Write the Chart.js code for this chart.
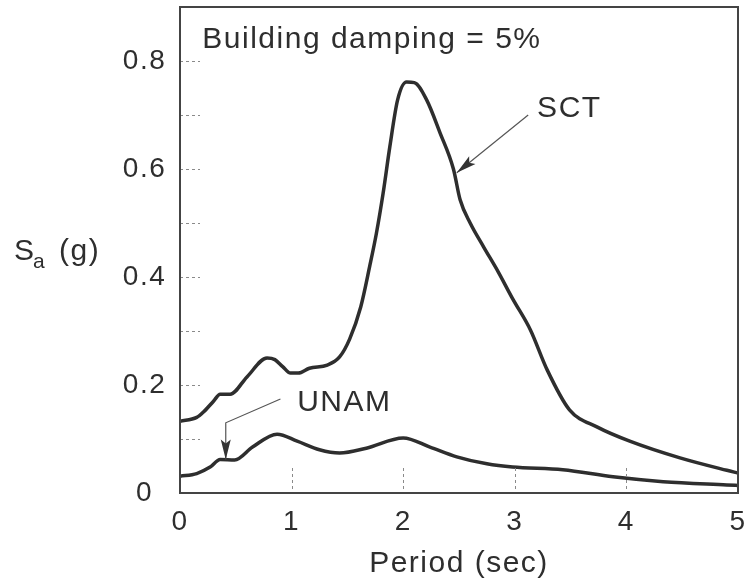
<!doctype html>
<html>
<head>
<meta charset="utf-8">
<title>Response spectra, SCT and UNAM</title>
<script src="https://cdn.jsdelivr.net/npm/chart.js@4.4.1/dist/chart.umd.min.js"></script>
<style>
  html, body { margin: 0; padding: 0; background: #fff; }
  #wrap { width: 752px; height: 579px; }
</style>
</head>
<body>
<div id="wrap"><canvas id="spectra" width="752" height="579"></canvas></div>
<script>
// period (sec) and spectral acceleration (g), 5% damping
var sctPeriod = [0, 0.15, 0.21, 0.30, 0.36, 0.45, 0.60, 0.78, 0.85, 0.92, 0.99, 1.06, 1.16, 1.32, 1.43, 1.52,
                 1.62, 1.70, 1.76, 1.82, 1.88, 1.95, 2.03, 2.10, 2.21, 2.33, 2.45, 2.51, 2.60, 2.72, 2.85,
                 2.98, 3.14, 3.29, 3.49, 3.74, 4.03, 4.48, 4.90, 5.0];
var sctSa = [0.133, 0.14, 0.15, 0.17, 0.183, 0.183, 0.215, 0.25, 0.247, 0.234, 0.222, 0.222, 0.231, 0.237, 0.252, 0.285,
             0.345, 0.42, 0.481, 0.555, 0.641, 0.728, 0.761, 0.760, 0.728, 0.667, 0.600, 0.543, 0.50, 0.456, 0.41,
             0.36, 0.302, 0.228, 0.154, 0.122, 0.096, 0.065, 0.042, 0.037];

var unamPeriod = [0, 0.15, 0.27, 0.36, 0.49, 0.65, 0.87, 1.05, 1.25, 1.43, 1.67, 2.0, 2.24, 2.48, 2.75, 2.98,
                  3.43, 3.88, 4.33, 4.90, 5.0];
var unamSa = [0.031, 0.036, 0.048, 0.062, 0.061, 0.085, 0.109, 0.096, 0.080, 0.074, 0.083, 0.102, 0.085, 0.067, 0.054, 0.048,
              0.043, 0.030, 0.021, 0.015, 0.014];

var xTicks = [0, 1, 2, 3, 4, 5];
var yLabels = [0, 0.2, 0.4, 0.6, 0.8];
var yMinor = [0.1, 0.2, 0.3, 0.4, 0.5, 0.6, 0.7, 0.8];

var ink = '#2e2e2e';
var fontFamily = '"Liberation Sans", Arial, Helvetica, sans-serif';

function pairs(xs, ys) {
  return xs.map(function (x, i) { return { x: x, y: ys[i] }; });
}

// notes placed in data units
var notes = {
  heading: { text: 'Building damping = 5%', x: 0.20, y: 0.824 },
  sct: { text: 'SCT', x: 3.20, y: 0.696, arrow: [[3.12, 0.70], [2.48, 0.593]] },
  unam: { text: 'UNAM', x: 1.05, y: 0.152, arrow: [[0.90, 0.174], [0.41, 0.13], [0.41, 0.062]] }
};

function arrowHead(ctx, fx, fy, tx, ty, len, half) {
  var a = Math.atan2(ty - fy, tx - fx);
  ctx.beginPath();
  ctx.moveTo(tx, ty);
  ctx.lineTo(tx - len * Math.cos(a) + half * Math.sin(a), ty - len * Math.sin(a) - half * Math.cos(a));
  ctx.lineTo(tx - len * Math.cos(a) * 0.8, ty - len * Math.sin(a) * 0.8);
  ctx.lineTo(tx - len * Math.cos(a) - half * Math.sin(a), ty - len * Math.sin(a) + half * Math.cos(a));
  ctx.closePath();
  ctx.fill();
}

var decor = {
  id: 'decor',
  beforeDraw: function (chart) {
    // slightly looser type, applies to tick labels too
    chart.ctx.letterSpacing = '1.5px';
  },
  afterDraw: function (chart) {
    var ctx = chart.ctx, a = chart.chartArea;
    var xs = chart.scales.x, ys = chart.scales.y;
    ctx.save();

    // inner dashed ticks
    ctx.strokeStyle = '#8a8a8a';
    ctx.lineWidth = 1;
    ctx.setLineDash([3, 3]);
    yMinor.forEach(function (v) {
      var py = Math.round(ys.getPixelForValue(v)) + 0.5;
      ctx.beginPath(); ctx.moveTo(a.left, py); ctx.lineTo(a.left + 20, py); ctx.stroke();
    });
    xTicks.slice(1, -1).forEach(function (v) {
      var px = Math.round(xs.getPixelForValue(v)) + 0.5;
      ctx.beginPath(); ctx.moveTo(px, a.bottom - 4); ctx.lineTo(px, a.bottom - 25); ctx.stroke();
    });
    ctx.setLineDash([]);

    // frame
    ctx.strokeStyle = '#444';
    ctx.lineWidth = 2;
    ctx.strokeRect(a.left, a.top, a.right - a.left, a.bottom - a.top);

    // texts
    ctx.fillStyle = ink;
    ctx.textBaseline = 'alphabetic';
    ctx.font = '30px ' + fontFamily;
    [notes.heading, notes.sct, notes.unam].forEach(function (n) {
      ctx.fillText(n.text, xs.getPixelForValue(n.x), ys.getPixelForValue(n.y));
    });

    // leader arrows
    ctx.strokeStyle = '#555';
    ctx.lineWidth = 1.2;
    [notes.sct.arrow, notes.unam.arrow].forEach(function (pts) {
      var p = pts.map(function (q) { return [xs.getPixelForValue(q[0]), ys.getPixelForValue(q[1])]; });
      ctx.beginPath();
      ctx.moveTo(p[0][0], p[0][1]);
      for (var i = 1; i < p.length; i++) ctx.lineTo(p[i][0], p[i][1]);
      ctx.stroke();
      var n = p.length;
      ctx.fillStyle = '#333';
      arrowHead(ctx, p[n - 2][0], p[n - 2][1], p[n - 1][0], p[n - 1][1], 20, 5);
    });

    // y axis title with subscript
    ctx.fillStyle = ink;
    ctx.font = '30px ' + fontFamily;
    ctx.fillText('S', 14, 260);
    ctx.font = '21px ' + fontFamily;
    ctx.fillText('a', 33, 268);
    ctx.font = '30px ' + fontFamily;
    ctx.fillText('(g)', 59, 260);

    ctx.restore();
  }
};

new Chart(document.getElementById('spectra'), {
  type: 'line',
  data: {
    datasets: [
      {
        label: 'SCT',
        data: pairs(sctPeriod, sctSa),
        borderColor: ink,
        borderWidth: 3.5,
        pointRadius: 0,
        cubicInterpolationMode: 'monotone',
        fill: false
      },
      {
        label: 'UNAM',
        data: pairs(unamPeriod, unamSa),
        borderColor: ink,
        borderWidth: 3.5,
        pointRadius: 0,
        cubicInterpolationMode: 'monotone',
        fill: false
      }
    ]
  },
  options: {
    responsive: false,
    animation: false,
    layout: { padding: { left: 0, right: 14, top: 7, bottom: 0 } },
    plugins: { legend: { display: false }, tooltip: { enabled: false } },
    scales: {
      x: {
        type: 'linear',
        min: 0,
        max: 5,
        grid: { display: false, drawTicks: false },
        border: { display: false },
        afterBuildTicks: function (s) { s.ticks = xTicks.map(function (v) { return { value: v }; }); },
        afterFit: function (s) { s.height = 86; s.paddingLeft = 0; s.paddingRight = 0; },
        ticks: {
          padding: 12,
          color: ink,
          font: { family: fontFamily, size: 28 },
          maxRotation: 0
        },
        title: {
          display: true,
          text: 'Period (sec)',
          color: ink,
          font: { family: fontFamily, size: 30, lineHeight: 1 },
          padding: { top: 0, bottom: 0 }
        }
      },
      y: {
        min: 0,
        max: 0.9,
        grid: { display: false, drawTicks: false },
        border: { display: false },
        afterBuildTicks: function (s) { s.ticks = yLabels.map(function (v) { return { value: v }; }); },
        afterFit: function (s) { s.width = 180; s.paddingTop = 0; s.paddingBottom = 0; },
        ticks: {
          padding: 16,
          crossAlign: 'center',
          color: ink,
          font: { family: fontFamily, size: 28 },
          callback: function (v) { return String(Math.round(v * 10) / 10); }
        }
      }
    }
  },
  plugins: [decor]
});
</script>
</body>
</html>
